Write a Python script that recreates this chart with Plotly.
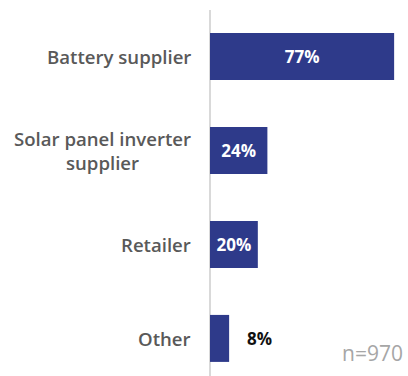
import plotly.graph_objects as go

categories = ["Battery supplier", "Solar panel inverter<br>supplier", "Retailer", "Other"]
values = [77, 24, 20, 8]
sample_note = "n=970"

bar_color = "#2e3a8a"
label_color = "#595959"
font_family = "Open Sans, Noto Sans, sans-serif"

idx = list(range(len(categories)))
inside_text = [f"{v}%" if v >= 15 else "" for v in values]

fig = go.Figure()
fig.add_trace(go.Bar(
    x=values,
    y=idx,
    orientation="h",
    width=0.5,
    marker=dict(color=bar_color, line=dict(width=0)),
    text=inside_text,
    textposition="inside",
    insidetextanchor="middle",
    textangle=0,
    textfont=dict(family=font_family, size=17, color="white", weight="bold"),
    hoverinfo="skip",
))

annotations = []
# category labels, centred text block right-aligned against the axis
for i, c in zip(idx, categories):
    annotations.append(dict(
        x=0, xref="paper", y=i, yref="y",
        text=c, showarrow=False,
        xanchor="right", yanchor="middle", align="center",
        xshift=-17,
        font=dict(family=font_family, size=18.6, color=label_color, weight=600),
    ))
# values too small to fit inside their bar
for i, v in zip(idx, values):
    if v < 15:
        annotations.append(dict(
            x=v, xref="x", y=i, yref="y",
            text=f"{v}%", showarrow=False,
            xanchor="left", yanchor="middle", xshift=16,
            font=dict(family=font_family, size=17, color="#111111", weight="bold"),
        ))
annotations.append(dict(
    x=1, xref="paper", y=0, yref="paper",
    text=sample_note, showarrow=False,
    xanchor="right", yanchor="bottom", xshift=-3, yshift=7,
    font=dict(family=font_family, size=21, color="#a6a6a6"),
))

fig.update_layout(
    width=408, height=376,
    margin=dict(l=210, r=0, t=10, b=0),
    paper_bgcolor="white", plot_bgcolor="white",
    showlegend=False,
    bargap=0.5,
    annotations=annotations,
    xaxis=dict(range=[0, 82.8], showgrid=False, showticklabels=False,
               zeroline=True, zerolinecolor="#d9d9d9", zerolinewidth=2,
               fixedrange=True),
    yaxis=dict(range=[3.4, -0.495], showgrid=False, showticklabels=False,
               zeroline=False, fixedrange=True),
    uniformtext=dict(mode=False),
)

fig.write_html("out.html")
